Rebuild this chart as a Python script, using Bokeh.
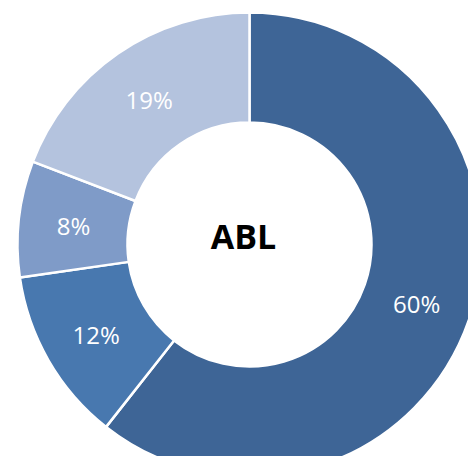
import math
from bokeh.plotting import figure
from bokeh.models import Range1d, ColumnDataSource
from bokeh.core.properties import value
from bokeh.embed import file_html
from bokeh.resources import INLINE

categories = ["A", "B", "C", "D"]
values = [60, 12, 8, 19]
labels = ["60%", "12%", "8%", "19%"]
colors = ["#3E6596", "#4878AF", "#7F9BC8", "#B4C3DE"]
center_label = "ABL"

W, H = 468, 456
p = figure(width=W, height=H, output_backend="svg", toolbar_location=None,
           x_range=Range1d(0, W), y_range=Range1d(0, H), min_border=0)
p.axis.visible = False
p.grid.visible = False
p.outline_line_color = None
p.background_fill_color = "white"

cx, cy = 249, H - 244
r_in, r_out = 122, 232

total = sum(values)
starts, ends, lx, ly = [], [], [], []
cum = 0.0
for v in values:
    a0 = math.pi / 2 - 2 * math.pi * cum / total
    cum += v
    a1 = math.pi / 2 - 2 * math.pi * cum / total
    starts.append(a1)
    ends.append(a0)
    mid = (a0 + a1) / 2
    rm = (r_in + r_out) / 2
    lx.append(cx + rm * math.cos(mid))
    ly.append(cy + rm * math.sin(mid) - 1)

src = ColumnDataSource(dict(cat=categories, start=starts, end=ends, color=colors,
                            lx=lx, ly=ly, label=labels,
                            x=[cx] * len(values), y=[cy] * len(values)))

p.annular_wedge(x="x", y="y", inner_radius=r_in, outer_radius=r_out,
                start_angle="start", end_angle="end", fill_color="color",
                line_color="white", line_width=2.5, source=src)

p.text(x="lx", y="ly", text="label", source=src, text_color="white",
       text_align="center", text_baseline="middle",
       text_font=value("Open Sans"), text_font_size="24px")

p.text(x=[cx - 6], y=[cy + 9], text=[center_label], text_color="black",
       text_align="center", text_baseline="middle",
       text_font=value("Open Sans"), text_font_style="bold", text_font_size="34px")

open("out.html", "w").write(file_html(p, INLINE))
